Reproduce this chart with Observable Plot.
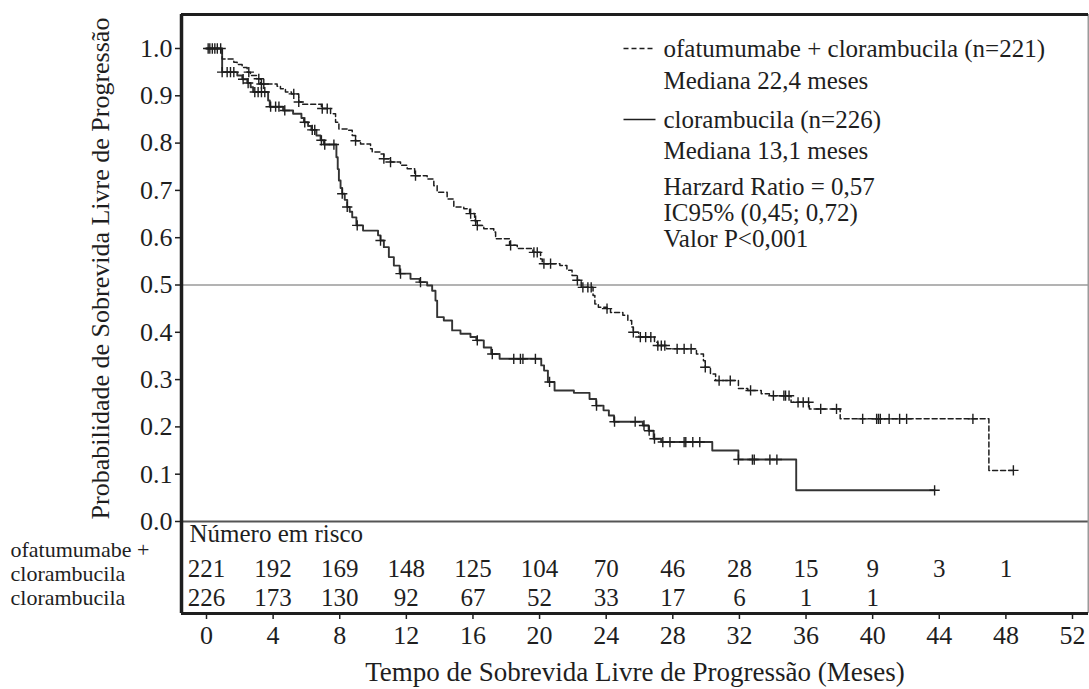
<!DOCTYPE html>
<html><head><meta charset="utf-8">
<script src="https://cdn.jsdelivr.net/npm/d3@7"></script>
<script src="https://cdn.jsdelivr.net/npm/@observablehq/plot@0.6"></script>
<style>
html,body{margin:0;padding:0;background:#fff;}
#chart svg{display:block;}
</style></head><body><div id="chart"></div>
<script>
// ---------- DATA ----------
// ofatumumabe + clorambucila (dashed): step times (months) and survival after each step
const ofaTimes = [0,0.94,1.64,1.84,2.14,2.44,2.64,3.00,3.24,4.24,4.44,4.74,5.10,5.54,5.75,6.90,7.45,7.75,7.95,8.45,8.75,8.95,9.25,9.85,9.95,10.45,10.65,11.05,11.65,12.05,12.50,13.25,13.65,13.85,14.45,14.85,15.45,15.80,16.10,16.26,16.65,17.25,17.36,18.20,18.66,19.60,20.06,20.16,21.22,21.64,21.95,22.27,22.50,23.21,23.32,23.53,24.05,24.26,25.00,25.30,25.53,25.63,25.95,26.90,27.10,27.63,29.42,29.84,29.95,30.26,30.57,31.94,32.50,33.31,33.80,35.10,36.20,38.05,46.98,48.45];
const ofaSurv  = [1.000,0.978,0.971,0.966,0.960,0.950,0.943,0.936,0.925,0.920,0.915,0.908,0.904,0.887,0.882,0.873,0.862,0.844,0.830,0.827,0.816,0.805,0.798,0.788,0.781,0.777,0.767,0.760,0.753,0.746,0.731,0.724,0.710,0.696,0.682,0.665,0.661,0.651,0.636,0.626,0.619,0.612,0.598,0.584,0.577,0.569,0.555,0.545,0.541,0.531,0.520,0.510,0.495,0.478,0.460,0.453,0.450,0.442,0.436,0.425,0.411,0.400,0.390,0.379,0.372,0.365,0.354,0.340,0.326,0.312,0.298,0.281,0.277,0.270,0.266,0.252,0.238,0.217,0.108,0.108];
const ofaCensor = [0.1,0.35,0.65,0.85,2.54,3.14,3.3,3.44,5.24,5.54,6.95,7.25,8.95,10.65,11.05,12.55,15.86,16.16,16.26,18.26,19.66,19.86,20.26,20.66,22.27,22.6,22.9,23.1,24.05,25.63,26.05,26.37,26.68,27.1,27.31,27.52,28.26,28.68,29.1,29.95,30.78,31.45,32.67,34.04,34.67,34.77,34.98,35.52,35.83,36.15,36.88,37.83,39.4,40.24,40.35,40.46,40.99,41.62,42.04,46.02,48.45];

// clorambucila (solid)
const chlTimes = [0,0.94,1.85,2.15,2.45,2.65,2.80,3.70,3.80,4.60,5.20,5.70,5.85,6.10,6.30,6.60,6.85,7.05,7.80,7.88,7.95,8.05,8.15,8.30,8.45,8.60,8.75,9.00,9.40,10.30,10.45,10.65,10.95,11.25,11.60,12.25,12.80,13.25,13.55,13.75,13.85,14.25,14.75,15.25,15.85,16.20,16.65,17.10,17.60,20.10,20.27,20.50,20.90,22.06,23.00,23.40,23.84,24.16,24.47,26.20,26.55,26.85,27.30,30.37,31.94,35.41,43.72];
const chlSurv  = [1.000,0.950,0.943,0.935,0.927,0.918,0.908,0.890,0.877,0.869,0.862,0.853,0.844,0.836,0.828,0.816,0.806,0.797,0.770,0.745,0.721,0.705,0.693,0.680,0.665,0.655,0.643,0.626,0.615,0.605,0.594,0.580,0.559,0.541,0.524,0.513,0.506,0.499,0.488,0.467,0.432,0.425,0.404,0.397,0.390,0.383,0.368,0.354,0.344,0.330,0.319,0.295,0.277,0.272,0.259,0.245,0.235,0.224,0.211,0.203,0.192,0.175,0.168,0.150,0.131,0.066,0.066];
const chlCensor = [0.2,0.5,0.94,1.24,1.44,1.64,2.2,2.5,2.9,3.1,3.3,3.5,3.85,4.15,4.35,4.7,5.9,6.35,6.5,6.9,7.1,7.65,8.15,8.45,9.05,10.45,11.65,12.85,16.26,17.16,18.45,18.85,19.0,19.75,20.6,23.42,24.5,25.74,26.27,26.58,26.9,27.4,27.83,28.68,28.78,29.2,29.62,31.94,32.78,32.89,33.83,34.25,43.72];

// Number at risk
const riskTimes = [0,4,8,12,16,20,24,28,32,36,40,44,48];
const ofaRisk = [221,192,169,148,125,104,70,46,28,15,9,3,1];
const chlRisk = [226,173,130,92,67,52,33,17,6,1,1];

// Axes and texts
const xTicks = [0,4,8,12,16,20,24,28,32,36,40,44,48,52];
const yTicks = [0,0.1,0.2,0.3,0.4,0.5,0.6,0.7,0.8,0.9,1.0];
const xTitle = "Tempo de Sobrevida Livre de Progressão (Meses)";
const yTitle = "Probabilidade de Sobrevida Livre de Progressão";
const riskTitle = "Número em risco";
const riskLabels = ["ofatumumabe +", "clorambucila", "clorambucila"];
const legendLines = [
  "ofatumumabe + clorambucila (n=221)",
  "Mediana 22,4 meses",
  "clorambucila (n=226)",
  "Mediana 13,1 meses",
  "Harzard Ratio = 0,57",
  "IC95% (0,45; 0,72)",
  "Valor P<0,001"
];

// ---------- LAYOUT ----------
const W = 1089, H = 689;
const L = 181, R = 1088, T = 14, B = 613;       // frame edges (px)
const X0 = 206, X52 = 1072;                      // px of month 0 and 52
const Y0 = 521, Y1 = 48;                         // px of prob 0 and 1
const xAt = px => (px - X0) / ((X52 - X0) / 52);
const yAt = px => (Y0 - px) / (Y0 - Y1);

const stepAt = (times, surv, t) => { let v = surv[0]; for (let i = 0; i < times.length; i++) if (times[i] <= t + 1e-9) v = surv[i]; return v; };

const ofaData = ofaTimes.map((t, i) => ({t, s: ofaSurv[i]}));
const chlData = chlTimes.map((t, i) => ({t, s: chlSurv[i]}));
const ofaCens = ofaCensor.map(t => ({t, s: stepAt(ofaTimes, ofaSurv, t)}));
const chlCens = chlCensor.map(t => ({t, s: stepAt(chlTimes, chlSurv, t)}));
const ofaRiskRows = ofaRisk.map((n, i) => ({t: riskTimes[i], n}));
const chlRiskRows = chlRisk.map((n, i) => ({t: riskTimes[i], n}));

const legendPx = [48, 80, 119, 150, 186, 212, 238];
const legendData = legendLines.map((s, i) => ({s, y: yAt(legendPx[i])}));
const riskLabelPx = [549, 573, 597];
const riskLabelData = riskLabels.map((s, i) => ({s, y: yAt(riskLabelPx[i])}));
const ink = "#1e1e1e";

const chart = Plot.plot({
  width: W, height: H,
  marginLeft: L, marginRight: W - R, marginTop: T, marginBottom: H - B,
  style: {fontFamily: "'Liberation Serif','Times New Roman',serif", fontSize: "25px", background: "#fff", color: ink},
  x: {domain: [xAt(L), xAt(R)], range: [L, R], axis: null},
  y: {domain: [yAt(B), yAt(T)], range: [B, T], axis: null},
  marks: [
    // reference line at 0.5
    Plot.ruleY([0.5], {stroke: "#9a9a9a", strokeWidth: 1.5}),
    // frame pieces
    Plot.ruleY([0], {stroke: "#555", strokeWidth: 2}),
    Plot.ruleX([xAt(R)], {stroke: "#9a9a9a", strokeWidth: 2}),
    Plot.ruleY([yAt(T)], {stroke: ink, strokeWidth: 3}),
    Plot.ruleY([yAt(B)], {stroke: ink, strokeWidth: 3}),
    Plot.ruleX([xAt(L)], {stroke: ink, strokeWidth: 3.5}),
    // axes
    Plot.axisY({ticks: yTicks, tickFormat: d3.format(".1f"), tickSize: 6, tickPadding: 3, label: null, stroke: ink, strokeWidth: 1.5, fontSize: 26}),
    Plot.axisX({ticks: xTicks, tickFormat: d3.format("d"), tickSize: 6, tickPadding: 6, label: null, stroke: ink, strokeWidth: 1.5, fontSize: 26}),
    Plot.text([yTitle], {frameAnchor: "left", textAnchor: "middle", lineAnchor: "middle", dx: -81, dy: 268 - (T + B) / 2, rotate: -90, fontSize: 26}),
    Plot.text([xTitle], {frameAnchor: "bottom", textAnchor: "middle", lineAnchor: "middle", dy: 59, fontSize: 27}),
    // curves
    Plot.line(chlData, {x: "t", y: "s", curve: "step-after", stroke: "#333", strokeWidth: 1.9}),
    Plot.line(ofaData, {x: "t", y: "s", curve: "step-after", stroke: ink, strokeWidth: 1.5, strokeDasharray: "5,3"}),
    Plot.dot(chlCens, {x: "t", y: "s", symbol: "plus", r: 3.4, stroke: ink, strokeWidth: 1.4}),
    Plot.dot(ofaCens, {x: "t", y: "s", symbol: "plus", r: 3.4, stroke: ink, strokeWidth: 1.4}),
    // legend
    Plot.link([0], {x1: xAt(623), x2: xAt(655), y1: yAt(legendPx[0]), y2: yAt(legendPx[0]), stroke: ink, strokeWidth: 1.3, strokeDasharray: "5,3"}),
    Plot.link([0], {x1: xAt(623), x2: xAt(655), y1: yAt(legendPx[2]), y2: yAt(legendPx[2]), stroke: ink, strokeWidth: 1.3}),
    Plot.text(legendData, {x: xAt(663), y: "y", text: "s", textAnchor: "start", lineAnchor: "middle"}),
    // risk table
    Plot.text([riskTitle], {x: xAt(189), y: yAt(533), textAnchor: "start"}),
    Plot.text(ofaRiskRows, {x: "t", y: yAt(568), text: d => String(d.n)}),
    Plot.text(chlRiskRows, {x: "t", y: yAt(597), text: d => String(d.n)}),
    Plot.text(riskLabelData, {x: xAt(10), y: "y", text: "s", textAnchor: "start", fontSize: 22})
  ]
});
document.getElementById("chart").appendChild(chart);
</script>
</body></html>
